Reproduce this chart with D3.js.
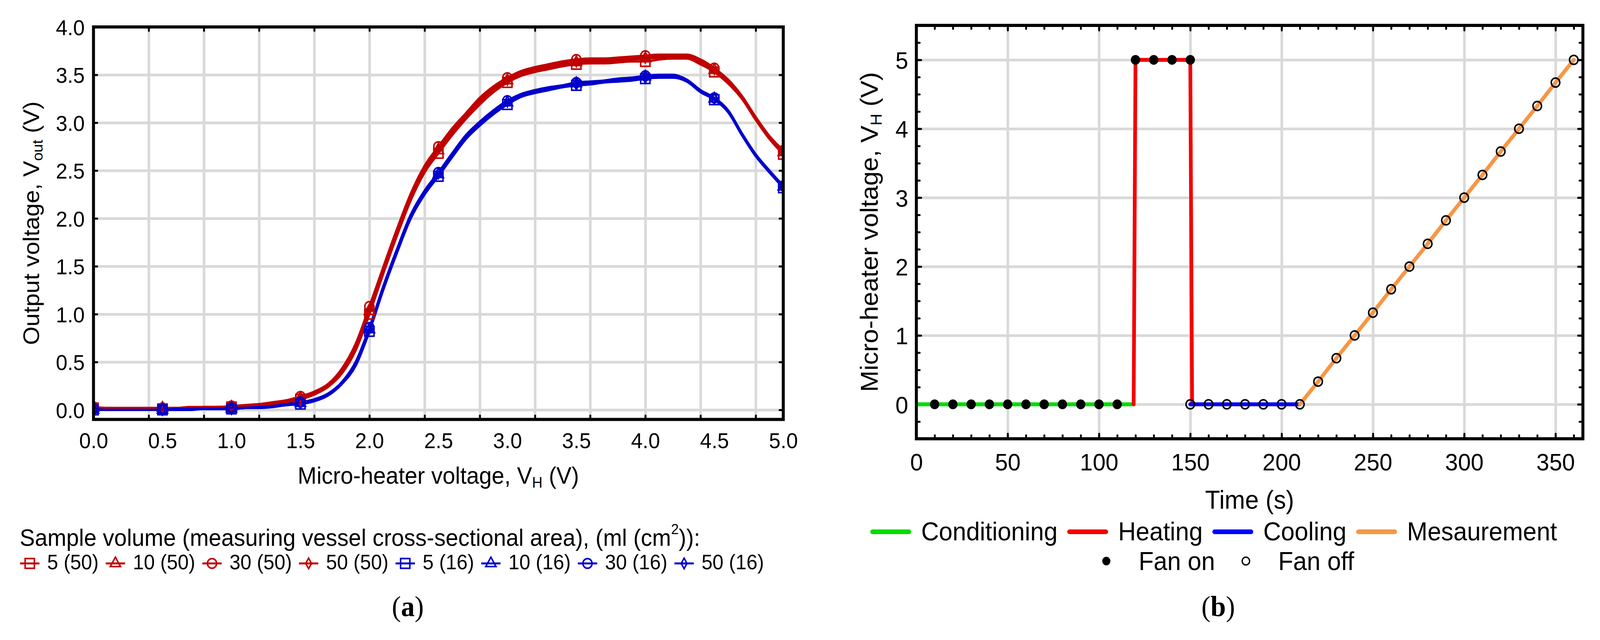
<!DOCTYPE html>
<html>
<head>
<meta charset="utf-8">
<script src="https://cdn.jsdelivr.net/npm/d3@7"></script>
<style>
    html, body { margin: 0; padding: 0; background: #fff; overflow: hidden; }
    svg { display: block; background: #fff; width: 100vw; height: 100vh; }
    svg text { font-family: "Liberation Sans", Arial, sans-serif; fill: #000; }
    .grid line { stroke: #d9d9d9; stroke-width: 7; }
    .grid path, .ticks path, .labels path, .labels line { display: none; }
    .ticks line { stroke: #000; stroke-width: 5; stroke-linecap: round; }
</style>
</head>
<body>
<svg id="fig"></svg>
<script>
    // ---------- panel (a): output voltage vs micro-heater voltage ----------
    const volts = [0.0, 0.1, 0.2, 0.3, 0.4, 0.5, 0.6, 0.7, 0.8, 0.9,
        1.0, 1.1, 1.2, 1.3, 1.4, 1.5, 1.6, 1.7, 1.8, 1.9,
        2.0, 2.1, 2.2, 2.3, 2.4, 2.5, 2.6, 2.7, 2.8, 2.9,
        3.0, 3.1, 3.2, 3.3, 3.4, 3.5, 3.6, 3.7, 3.8, 3.9,
        4.0, 4.1, 4.2, 4.3, 4.4, 4.5, 4.6, 4.7, 4.8, 4.9, 5.0];

    const red5 = [0.02, 0.02, 0.02, 0.02, 0.02, 0.01, 0.02, 0.02, 0.02, 0.03,
        0.03, 0.04, 0.05, 0.06, 0.08, 0.11, 0.16, 0.24, 0.38, 0.62,
        1.00, 1.42, 1.82, 2.19, 2.48, 2.68, 2.87, 3.04, 3.19, 3.32,
        3.42, 3.49, 3.53, 3.56, 3.59, 3.61, 3.62, 3.62, 3.63, 3.64,
        3.64, 3.66, 3.67, 3.67, 3.61, 3.53, 3.41, 3.25, 3.03, 2.83, 2.67];
    const red10 = [0.02, 0.02, 0.02, 0.02, 0.02, 0.02, 0.02, 0.02, 0.03, 0.03,
        0.03, 0.04, 0.05, 0.07, 0.09, 0.12, 0.17, 0.25, 0.40, 0.65,
        1.03, 1.45, 1.85, 2.22, 2.51, 2.71, 2.90, 3.07, 3.22, 3.35,
        3.44, 3.51, 3.55, 3.58, 3.61, 3.63, 3.64, 3.64, 3.65, 3.66,
        3.67, 3.68, 3.69, 3.69, 3.63, 3.55, 3.42, 3.26, 3.04, 2.84, 2.69];
    const red30 = [0.03, 0.02, 0.02, 0.02, 0.02, 0.02, 0.02, 0.03, 0.03, 0.03,
        0.04, 0.05, 0.06, 0.08, 0.10, 0.14, 0.19, 0.27, 0.43, 0.69,
        1.08, 1.49, 1.89, 2.26, 2.55, 2.75, 2.94, 3.10, 3.26, 3.38,
        3.47, 3.54, 3.58, 3.61, 3.64, 3.66, 3.67, 3.67, 3.68, 3.69,
        3.70, 3.71, 3.71, 3.71, 3.66, 3.57, 3.45, 3.28, 3.06, 2.86, 2.71];
    const red50 = [0.02, 0.02, 0.02, 0.02, 0.02, 0.02, 0.02, 0.02, 0.03, 0.03,
        0.03, 0.04, 0.05, 0.07, 0.09, 0.13, 0.18, 0.26, 0.41, 0.66,
        1.05, 1.47, 1.87, 2.24, 2.53, 2.73, 2.92, 3.08, 3.24, 3.36,
        3.45, 3.52, 3.56, 3.59, 3.62, 3.64, 3.65, 3.65, 3.66, 3.67,
        3.68, 3.69, 3.70, 3.70, 3.64, 3.56, 3.43, 3.27, 3.05, 2.85, 2.70];

    const blue5 = [0.00, 0.00, 0.00, 0.00, 0.00, 0.00, 0.00, 0.00, 0.01, 0.01,
        0.01, 0.02, 0.02, 0.03, 0.05, 0.06, 0.09, 0.15, 0.27, 0.46,
        0.82, 1.25, 1.64, 2.00, 2.25, 2.44, 2.64, 2.83, 2.97, 3.09,
        3.19, 3.27, 3.31, 3.34, 3.37, 3.39, 3.40, 3.42, 3.43, 3.44,
        3.46, 3.47, 3.47, 3.43, 3.32, 3.24, 3.11, 2.87, 2.65, 2.48, 2.32];
    const blue10 = [0.00, 0.00, 0.00, 0.00, 0.00, 0.00, 0.00, 0.01, 0.01, 0.01,
        0.01, 0.02, 0.03, 0.04, 0.05, 0.07, 0.10, 0.16, 0.28, 0.48,
        0.84, 1.27, 1.66, 2.02, 2.27, 2.46, 2.66, 2.85, 2.99, 3.11,
        3.21, 3.29, 3.33, 3.36, 3.38, 3.41, 3.42, 3.43, 3.45, 3.46,
        3.48, 3.49, 3.49, 3.44, 3.33, 3.25, 3.12, 2.88, 2.66, 2.49, 2.33];
    const blue30 = [0.01, 0.00, 0.00, 0.00, 0.00, 0.00, 0.01, 0.01, 0.01, 0.01,
        0.02, 0.02, 0.03, 0.04, 0.06, 0.08, 0.11, 0.17, 0.29, 0.50,
        0.86, 1.29, 1.68, 2.04, 2.29, 2.48, 2.68, 2.87, 3.01, 3.13,
        3.23, 3.30, 3.34, 3.37, 3.39, 3.42, 3.43, 3.44, 3.46, 3.47,
        3.49, 3.50, 3.50, 3.45, 3.34, 3.26, 3.13, 2.89, 2.67, 2.50, 2.34];
    const blue50 = [0.00, 0.00, 0.00, 0.00, 0.00, 0.00, 0.00, 0.01, 0.01, 0.01,
        0.01, 0.02, 0.03, 0.04, 0.05, 0.07, 0.10, 0.16, 0.28, 0.49,
        0.85, 1.28, 1.67, 2.03, 2.28, 2.47, 2.67, 2.86, 3.00, 3.12,
        3.22, 3.29, 3.33, 3.36, 3.38, 3.40, 3.42, 3.43, 3.45, 3.46,
        3.47, 3.48, 3.48, 3.44, 3.33, 3.25, 3.12, 2.88, 2.66, 2.49, 2.33];

    const seriesNamesA = ["5 (50)", "10 (50)", "30 (50)", "50 (50)", "5 (16)", "10 (16)", "30 (16)", "50 (16)"];
    const seriesValuesA = [red5, red10, red30, red50, blue5, blue10, blue30, blue50];
    const seriesShapesA = ["square", "triangle", "circle", "diamond", "square", "triangle", "circle", "diamond"];
    const seriesColorsA = ["#c00000", "#c00000", "#c00000", "#c00000", "#0000cc", "#0000cc", "#0000cc", "#0000cc"];

    const xLabelsA = [0.0, 0.5, 1.0, 1.5, 2.0, 2.5, 3.0, 3.5, 4.0, 4.5, 5.0];
    const xGridA = [0.4, 0.8, 1.2, 1.6, 2.0, 2.4, 2.8, 3.2, 3.6, 4.0, 4.4, 4.8];
    const yTicksA = [0.0, 0.5, 1.0, 1.5, 2.0, 2.5, 3.0, 3.5, 4.0];

    // ---------- panel (b): micro-heater voltage vs time ----------
    const condT = [0, 10, 20, 30, 40, 50, 60, 70, 80, 90, 100, 110, 119];
    const condV = [0, 0, 0, 0, 0, 0, 0, 0, 0, 0, 0, 0, 0];
    const heatT = [119, 120, 130, 140, 150, 151];
    const heatV = [0, 5, 5, 5, 5, 0];
    const coolT = [150, 160, 170, 180, 190, 200, 210];
    const coolV = [0, 0, 0, 0, 0, 0, 0];
    const measT = [210, 220, 230, 240, 250, 260, 270, 280, 290, 300, 310, 320, 330, 340, 350, 360];
    const measV = [0, 0.33, 0.67, 1, 1.33, 1.67, 2, 2.33, 2.67, 3, 3.33, 3.67, 4, 4.33, 4.67, 5];

    const fanOnT = [10, 20, 30, 40, 50, 60, 70, 80, 90, 100, 110, 120, 130, 140, 150];
    const fanOnV = [0, 0, 0, 0, 0, 0, 0, 0, 0, 0, 0, 5, 5, 5, 5];
    const fanOffT = [150, 160, 170, 180, 190, 200, 210, 220, 230, 240, 250, 260, 270, 280, 290, 300, 310, 320, 330, 340, 350, 360];
    const fanOffV = [0, 0, 0, 0, 0, 0, 0, 0.33, 0.67, 1, 1.33, 1.67, 2, 2.33, 2.67, 3, 3.33, 3.67, 4, 4.33, 4.67, 5];

    const phaseNames = ["Conditioning", "Heating", "Cooling", "Mesaurement"];
    const phaseColors = ["#00dc00", "#f40000", "#0000ff", "#f79646"];

    const xTicksB = [0, 50, 100, 150, 200, 250, 300, 350];
    const yTicksB = [0, 1, 2, 3, 4, 5];

    // ---------- layout ----------
    const config = {
        width: 4304,
        height: 1638,
        a: { left: 251.5, right: 2107, top: 69, bottom: 1073.5 },
        b: { left: 2465, right: 4258, top: 65, bottom: 1123 },
    };

    // fixed 4304 x 1638 drawing box stretched over the whole window
    const svg = d3.select("#fig")
        .attr("viewBox", `0 0 ${config.width} ${config.height}`)
        .attr("preserveAspectRatio", "none");
    const defs = svg.append("defs");

    function addClip(id, box) {
        defs.append("clipPath").attr("id", id)
            .append("rect")
            .attr("x", box.left).attr("y", box.top)
            .attr("width", box.right - box.left)
            .attr("height", box.bottom - box.top);
    }

    function tickAxis(parent, axis, transform) {
        parent.append("g").attr("class", "ticks")
            .attr("transform", transform)
            .call(axis.tickFormat(""));
    }

    const shapePaths = {
        square: d3.symbol(d3.symbolSquare, 620)(),
        triangle: d3.symbol(d3.symbolTriangle, 330)(),
        circle: d3.symbol(d3.symbolCircle, 480)(),
        diamond: d3.symbol(d3.symbolDiamond, 210)(),
    };

    // ================= panel (a) =================
    const A = config.a;
    addClip("clipA", A);
    const xA = d3.scaleLinear().domain([0, 5]).range([A.left, A.right]);
    const yA = d3.scaleLinear().domain([-0.1, 4]).range([A.bottom, A.top]);
    const pa = svg.append("g");

    // grid (vertical lines every 0.4 V, as in the original plot)
    pa.append("g").attr("class", "grid")
        .attr("transform", `translate(0,${A.bottom})`)
        .call(d3.axisBottom(xA).tickValues(xGridA).tickSize(-(A.bottom - A.top)).tickFormat(""));
    pa.append("g").attr("class", "grid")
        .attr("transform", `translate(${A.left},0)`)
        .call(d3.axisLeft(yA).tickValues(yTicksA.filter(v => v < 4)).tickSize(-(A.right - A.left)).tickFormat(""));

    // small inward ticks on all four sides
    tickAxis(pa, d3.axisBottom(xA).tickValues(xGridA).tickSize(-10), `translate(0,${A.bottom})`);
    tickAxis(pa, d3.axisTop(xA).tickValues(xGridA).tickSize(-10), `translate(0,${A.top})`);
    tickAxis(pa, d3.axisLeft(yA).tickValues(yTicksA).tickSize(-10), `translate(${A.left},0)`);
    tickAxis(pa, d3.axisRight(yA).tickValues(yTicksA).tickSize(-10), `translate(${A.right},0)`);

    // curves
    const plotA = pa.append("g").attr("clip-path", "url(#clipA)");
    const lineA = d3.line()
        .x((d, i) => xA(volts[i]))
        .y(d => yA(d))
        .curve(d3.curveMonotoneX);

    seriesValuesA.forEach((vals, k) => {
        plotA.append("path")
            .attr("d", lineA(vals))
            .attr("fill", "none")
            .attr("stroke", seriesColorsA[k])
            .attr("stroke-width", 6)
            .attr("stroke-linejoin", "round");
    });

    // markers at every 0.5 V
    const markerIdx = volts.map((v, i) => i).filter(i => Math.abs(volts[i] * 2 - Math.round(volts[i] * 2)) < 1e-6);
    seriesValuesA.forEach((vals, k) => {
        plotA.selectAll(null)
            .data(markerIdx)
            .enter()
            .append("path")
            .attr("transform", i => `translate(${xA(volts[i])},${yA(vals[i])})`)
            .attr("d", shapePaths[seriesShapesA[k]])
            .attr("fill", "none")
            .attr("stroke", seriesColorsA[k])
            .attr("stroke-width", 4);
    });

    // frame
    pa.append("rect")
        .attr("x", A.left).attr("y", A.top)
        .attr("width", A.right - A.left).attr("height", A.bottom - A.top)
        .attr("fill", "none").attr("stroke", "#000").attr("stroke-width", 8);

    // tick labels
    pa.append("g").attr("class", "labels")
        .attr("transform", `translate(0,${A.bottom})`)
        .call(d3.axisBottom(xA).tickValues(xLabelsA).tickSize(0).tickFormat(d3.format(".1f")))
        .call(g => g.selectAll("text").attr("y", 73.5).attr("dy", 0).attr("font-size", 56));
    pa.append("g").attr("class", "labels")
        .attr("transform", `translate(${A.left},0)`)
        .call(d3.axisLeft(yA).tickValues(yTicksA).tickSize(0).tickFormat(d3.format(".1f")))
        .call(g => g.selectAll("text").attr("x", -23.5).attr("dy", "0.36em").attr("font-size", 56));

    // axis titles
    pa.append("text")
        .attr("x", (A.left + A.right) / 2).attr("y", 1238)
        .attr("text-anchor", "middle").attr("font-size", 61)
        .call(t => {
            t.append("tspan").text("Micro-heater voltage, V");
            t.append("tspan").attr("font-size", 39).attr("dy", 10).text("H");
            t.append("tspan").attr("dy", -10).text(" (V)");
        });
    pa.append("text")
        .attr("transform", `translate(105,${(A.top + A.bottom) / 2}) rotate(-90)`)
        .attr("text-anchor", "middle").attr("font-size", 61)
        .call(t => {
            t.append("tspan").text("Output voltage, V");
            t.append("tspan").attr("font-size", 39).attr("dy", 10).text("out");
            t.append("tspan").attr("dy", -10).text(" (V)");
        });

    // legend (a)
    const legA = svg.append("g");
    legA.append("text")
        .attr("x", 53).attr("y", 1397).attr("font-size", 61)
        .call(t => {
            t.append("tspan").text("Sample volume (measuring vessel cross-sectional area), (ml (cm");
            t.append("tspan").attr("font-size", 37).attr("dy", -30).text("2");
            t.append("tspan").attr("dy", 30).text(")):");
        });

    let cursor = 54;
    seriesNamesA.forEach((name, k) => {
        const item = legA.append("g");
        item.append("path")
            .attr("transform", `translate(${cursor + 26},1442)`)
            .attr("d", shapePaths[seriesShapesA[k]])
            .attr("fill", "#fff")
            .attr("stroke", seriesColorsA[k]).attr("stroke-width", 4);
        item.append("line")
            .attr("x1", cursor).attr("x2", cursor + 52)
            .attr("y1", 1442).attr("y2", 1442)
            .attr("stroke", seriesColorsA[k]).attr("stroke-width", 5);
        const txt = item.append("text")
            .attr("x", cursor + 73).attr("y", 1457)
            .attr("font-size", 53).text(name);
        cursor = cursor + 73 + txt.node().getComputedTextLength() + 19;
    });

    svg.append("text")
        .attr("x", 1097).attr("y", 1577)
        .attr("text-anchor", "middle").attr("font-size", 74)
        .style("font-family", "'Liberation Serif', 'Times New Roman', serif")
        .call(t => {
            t.append("tspan").text("(");
            t.append("tspan").attr("font-weight", "bold").text("a");
            t.append("tspan").text(")");
        });

    // ================= panel (b) =================
    const B = config.b;
    addClip("clipB", B);
    const xB = d3.scaleLinear().domain([0, 365]).range([B.left, B.right]);
    const yB = d3.scaleLinear().domain([-0.5, 5.5]).range([B.bottom, B.top]);
    const pb = svg.append("g");

    pb.append("g").attr("class", "grid")
        .attr("transform", `translate(0,${B.bottom})`)
        .call(d3.axisBottom(xB).tickValues(xTicksB.filter(v => v > 0)).tickSize(-(B.bottom - B.top)).tickFormat(""));
    pb.append("g").attr("class", "grid")
        .attr("transform", `translate(${B.left},0)`)
        .call(d3.axisLeft(yB).tickValues(yTicksB).tickSize(-(B.right - B.left)).tickFormat(""));

    const minorX = d3.range(0, 361, 10);
    const minorY = d3.range(-0.5, 5.51, 0.25);
    tickAxis(pb, d3.axisBottom(xB).tickValues(minorX).tickSize(-9), `translate(0,${B.bottom})`);
    tickAxis(pb, d3.axisTop(xB).tickValues(minorX).tickSize(-9), `translate(0,${B.top})`);
    tickAxis(pb, d3.axisLeft(yB).tickValues(minorY).tickSize(-9), `translate(${B.left},0)`);
    tickAxis(pb, d3.axisRight(yB).tickValues(minorY).tickSize(-9), `translate(${B.right},0)`);
    tickAxis(pb, d3.axisBottom(xB).tickValues(xTicksB).tickSize(-13), `translate(0,${B.bottom})`);
    tickAxis(pb, d3.axisTop(xB).tickValues(xTicksB).tickSize(-13), `translate(0,${B.top})`);
    tickAxis(pb, d3.axisLeft(yB).tickValues(yTicksB).tickSize(-13), `translate(${B.left},0)`);
    tickAxis(pb, d3.axisRight(yB).tickValues(yTicksB).tickSize(-13), `translate(${B.right},0)`);

    const plotB = pb.append("g").attr("clip-path", "url(#clipB)");
    const lineB = d3.line().x(d => xB(d[0])).y(d => yB(d[1]));
    const phases = [[condT, condV], [heatT, heatV], [coolT, coolV], [measT, measV]];
    phases.forEach((p, k) => {
        plotB.append("path")
            .attr("d", lineB(d3.zip(p[0], p[1])))
            .attr("fill", "none")
            .attr("stroke", phaseColors[k])
            .attr("stroke-width", 10)
            .attr("stroke-linecap", "round")
            .attr("stroke-linejoin", "round");
    });

    plotB.selectAll(null)
        .data(d3.zip(fanOnT, fanOnV))
        .enter()
        .append("circle")
        .attr("cx", d => xB(d[0])).attr("cy", d => yB(d[1]))
        .attr("r", 12.5).attr("fill", "#000");
    plotB.selectAll(null)
        .data(d3.zip(fanOffT, fanOffV))
        .enter()
        .append("circle")
        .attr("cx", d => xB(d[0])).attr("cy", d => yB(d[1]))
        .attr("r", 11.5).attr("fill", "none")
        .attr("stroke", "#000").attr("stroke-width", 4);

    pb.append("rect")
        .attr("x", B.left).attr("y", B.top)
        .attr("width", B.right - B.left).attr("height", B.bottom - B.top)
        .attr("fill", "none").attr("stroke", "#000").attr("stroke-width", 8);

    pb.append("g").attr("class", "labels")
        .attr("transform", `translate(0,${B.bottom})`)
        .call(d3.axisBottom(xB).tickValues(xTicksB).tickSize(0).tickFormat(d3.format("d")))
        .call(g => g.selectAll("text").attr("y", 81).attr("dy", 0).attr("font-size", 62));
    pb.append("g").attr("class", "labels")
        .attr("transform", `translate(${B.left},0)`)
        .call(d3.axisLeft(yB).tickValues(yTicksB).tickSize(0).tickFormat(d3.format("d")))
        .call(g => g.selectAll("text").attr("x", -22).attr("dy", "0.36em").attr("font-size", 62));

    pb.append("text")
        .attr("x", (B.left + B.right) / 2).attr("y", 1302)
        .attr("text-anchor", "middle").attr("font-size", 66)
        .text("Time (s)");
    pb.append("text")
        .attr("transform", `translate(2361,${(B.top + B.bottom) / 2}) rotate(-90)`)
        .attr("text-anchor", "middle").attr("font-size", 66)
        .call(t => {
            t.append("tspan").text("Micro-heater voltage, V");
            t.append("tspan").attr("font-size", 42).attr("dy", 11).text("H");
            t.append("tspan").attr("dy", -11).text(" (V)");
        });

    // legend (b)
    const legB = svg.append("g");
    cursor = 2341;
    phaseNames.forEach((name, k) => {
        legB.append("line")
            .attr("x1", cursor + 6).attr("x2", cursor + 104)
            .attr("y1", 1361).attr("y2", 1361)
            .attr("stroke", phaseColors[k]).attr("stroke-width", 12)
            .attr("stroke-linecap", "round");
        const txt = legB.append("text")
            .attr("x", cursor + 137).attr("y", 1383)
            .attr("font-size", 66).text(name);
        cursor = cursor + 137 + txt.node().getComputedTextLength() + 26;
    });

    const fanNames = ["Fan on", "Fan off"];
    cursor = 2976;
    fanNames.forEach((name, k) => {
        const c = legB.append("circle").attr("cx", cursor).attr("cy", 1436);
        if (k === 0) c.attr("r", 11).attr("fill", "#000");
        else c.attr("r", 10).attr("fill", "none").attr("stroke", "#000").attr("stroke-width", 3.5);
        const txt = legB.append("text")
            .attr("x", cursor + 87).attr("y", 1459)
            .attr("font-size", 66).text(name);
        cursor = cursor + 87 + txt.node().getComputedTextLength() + 83;
    });

    svg.append("text")
        .attr("x", 3277).attr("y", 1577)
        .attr("text-anchor", "middle").attr("font-size", 74)
        .style("font-family", "'Liberation Serif', 'Times New Roman', serif")
        .call(t => {
            t.append("tspan").text("(");
            t.append("tspan").attr("font-weight", "bold").text("b");
            t.append("tspan").text(")");
        });
</script>
</body>
</html>
